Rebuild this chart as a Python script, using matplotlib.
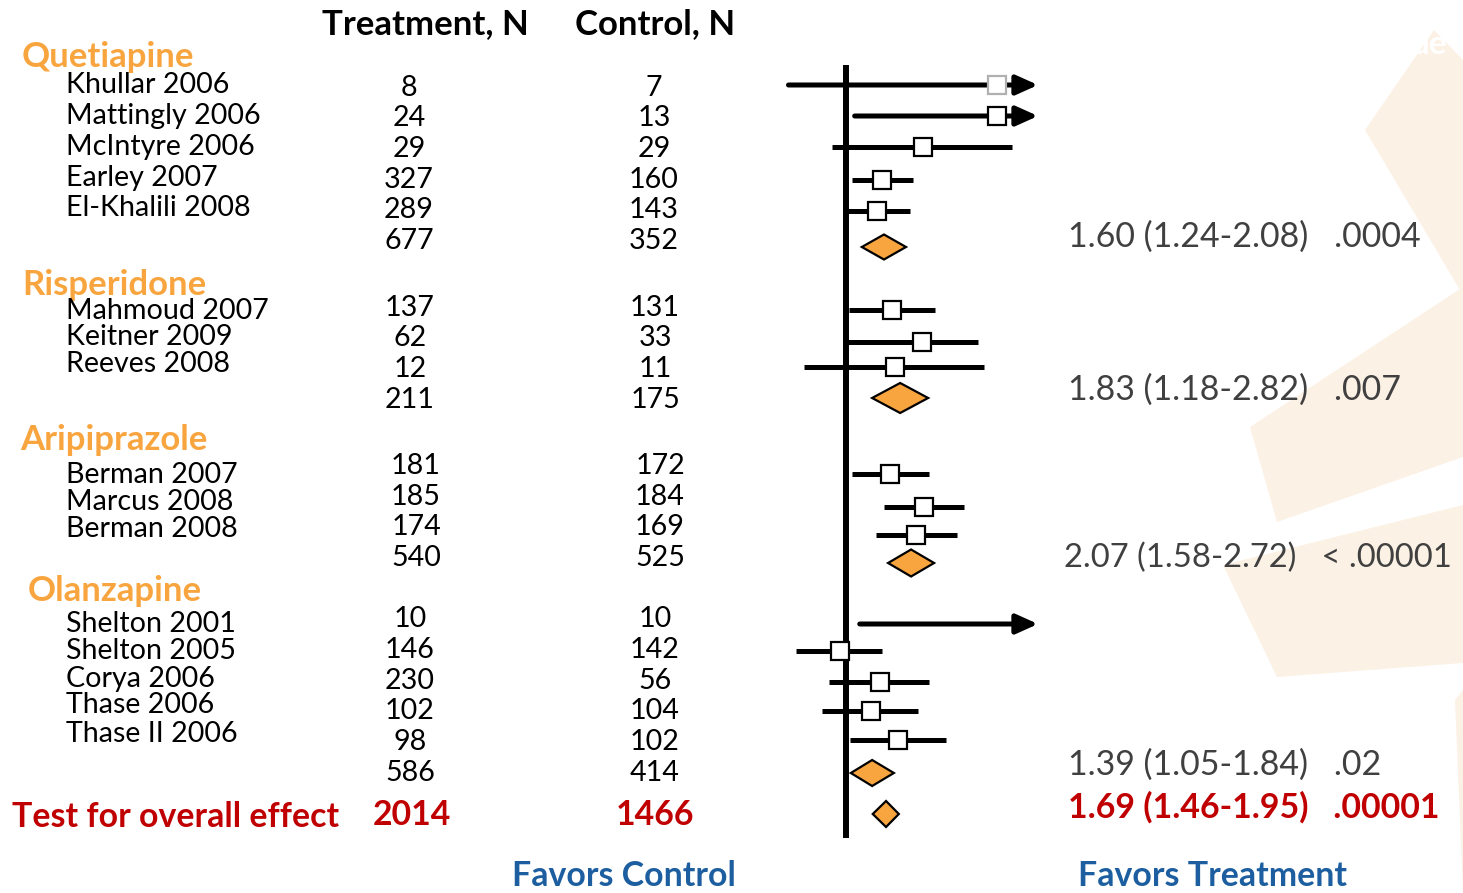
import numpy as np
import matplotlib
matplotlib.use("Agg")
import matplotlib.pyplot as plt
from matplotlib.patches import Polygon

W, H = 1463, 893
FONT = "Lato"
plt.rcParams['font.family'] = [FONT, 'DejaVu Sans']

# ---------------- data ----------------
groups = ["Quetiapine", "Risperidone", "Aripiprazole", "Olanzapine"]
studies = [
    ["Khullar 2006", "Mattingly 2006", "McIntyre 2006", "Earley 2007", "El-Khalili 2008"],
    ["Mahmoud 2007", "Keitner 2009", "Reeves 2008"],
    ["Berman 2007", "Marcus 2008", "Berman 2008"],
    ["Shelton 2001", "Shelton 2005", "Corya 2006", "Thase 2006", "Thase II 2006"],
]
treat_n = [[8, 24, 29, 327, 289], [137, 62, 12], [181, 185, 174], [10, 146, 230, 102, 98]]
treat_tot = [677, 211, 540, 586]
ctrl_n = [[7, 13, 29, 160, 143], [131, 33, 11], [172, 184, 169], [10, 142, 56, 104, 102]]
ctrl_tot = [352, 175, 525, 414]
overall_treat, overall_ctrl = 2014, 1466

# odds ratios (None = off scale, drawn as arrow)
or_est = [[6.2, 6.2, 2.53, 1.54, 1.45], [1.74, 2.50, 1.80], [1.70, 2.56, 2.32], [None, 0.93, 1.51, 1.35, 1.87]]
or_lo = [[0.50, 1.11, 0.84, 1.07, 1.02], [1.04, 0.96, 0.60], [1.07, 1.58, 1.44], [1.18, 0.55, 0.81, 0.75, 1.05]]
or_hi = [[None, None, 7.4, 2.24, 2.16], [2.92, 4.91, 5.27], [2.72, 4.14, 3.81], [None, 1.54, 2.72, 2.38, 3.34]]
pooled_est = [1.58, 1.92, 2.19, 1.37]
pooled_lo = [1.21, 1.37, 1.66, 1.06]
pooled_hi = [2.06, 2.69, 2.89, 1.78]
overall_est, overall_lo, overall_hi = 1.62, 1.38, 1.89
pooled_text = ["1.60 (1.24-2.08)   .0004", "1.83 (1.18-2.82)   .007",
               "2.07 (1.58-2.72)   < .00001", "1.39 (1.05-1.84)   .02"]
overall_text = "1.69 (1.46-1.95)   .00001"

# ---------------- layout (pixel positions) ----------------
group_y = [57, 285, 440, 591]
group_x = [22, 22, 20, 28]
study_y = [[85, 116, 147, 178, 208], [311, 337, 364], [475, 502, 529], [624, 651, 679, 705, 734]]
num_y = [[88, 118, 149, 180, 210], [308, 338, 369], [466, 497, 527], [619, 650, 681, 711, 742]]
tot_y = [241, 400, 558, 773]
treat_x = [409, 410, 416, 410]
ctrl_x = [654, 655, 660, 655]
plot_y = [[85, 116, 147, 180, 211], [310, 342, 367], [474, 507, 535], [624, 651, 682, 711, 740]]
diam_y = [247, 398, 563, 773]
diam_h = [12.5, 15, 13.5, 13]
right_text_y = [237, 390, 558, 765]
right_text_x = [1068, 1068, 1064, 1068]
right_text_fs = [24.4, 24.4, 23.6, 24.4]

ORANGE = "#F9A53F"
GREY = "#404040"
RED = "#C00000"
BLUE = "#1C5E9F"
PEACH = "#FCF1E5"

FS_ROW = 20.6
FS_BIG = 24.4

fig = plt.figure(figsize=(W / 100, H / 100), dpi=100)

def fx(x):
    return x / W

def fy(y):
    return 1 - y / H

# background decoration
bg = fig.add_axes([0, 0, 1, 1], zorder=-5)
bg.set_xlim(0, W)
bg.set_ylim(H, 0)
bg.axis("off")
for pts in [[(1434, 30), (1365, 130), (1463, 295), (1463, 60)],
            [(1250, 427), (1277, 522), (1463, 457), (1463, 287)],
            [(1223, 565), (1277, 677), (1463, 663), (1463, 505)],
            [(1455, 700), (1463, 893), (1463, 690)]]:
    bg.add_patch(Polygon(pts, closed=True, facecolor=PEACH, edgecolor="none"))
bg.text(1428, 45, "ue", color="white", fontsize=24, fontweight="bold", ha="center", va="center")

# texts
fig.text(fx(425), fy(24), "Treatment, N", fontsize=25, fontweight="bold", ha="center", va="center")
fig.text(fx(655), fy(24), "Control, N", fontsize=25, fontweight="bold", ha="center", va="center")

for g in range(4):
    fig.text(fx(group_x[g]), fy(group_y[g]), groups[g], fontsize=25, fontweight="bold",
             color=ORANGE, ha="left", va="center")
    for i, name in enumerate(studies[g]):
        fig.text(fx(66), fy(study_y[g][i]), name, fontsize=FS_ROW, ha="left", va="center")
        fig.text(fx(treat_x[g]), fy(num_y[g][i]), str(treat_n[g][i]), fontsize=FS_ROW, ha="center", va="center")
        fig.text(fx(ctrl_x[g]), fy(num_y[g][i]), str(ctrl_n[g][i]), fontsize=FS_ROW, ha="center", va="center")
    fig.text(fx(treat_x[g]), fy(tot_y[g]), str(treat_tot[g]), fontsize=FS_ROW, ha="center", va="center")
    fig.text(fx(ctrl_x[g]), fy(tot_y[g]), str(ctrl_tot[g]), fontsize=FS_ROW, ha="center", va="center")
    fig.text(fx(right_text_x[g]), fy(right_text_y[g]), pooled_text[g], fontsize=right_text_fs[g],
             color=GREY, ha="left", va="center")

fig.text(fx(12), fy(817), "Test for overall effect", fontsize=FS_BIG, fontweight="bold", color=RED, ha="left", va="center")
fig.text(fx(412), fy(815), str(overall_treat), fontsize=FS_BIG, fontweight="bold", color=RED, ha="center", va="center")
fig.text(fx(655), fy(815), str(overall_ctrl), fontsize=FS_BIG, fontweight="bold", color=RED, ha="center", va="center")
fig.text(fx(1068), fy(807), overall_text, fontsize=FS_BIG, fontweight="bold", color=RED, ha="left", va="center")
fig.text(fx(624), fy(876), "Favors Control", fontsize=FS_BIG, fontweight="bold", color=BLUE, ha="center", va="center")
fig.text(fx(1213), fy(876), "Favors Treatment", fontsize=FS_BIG, fontweight="bold", color=BLUE, ha="center", va="center")

# forest plot axes: x from pixel 780 to 1040 (log OR), y in pixels
K = 83.0
x0, x1 = 780, 1040
ax = fig.add_axes([fx(x0), 0, (x1 - x0) / W, 1])
ax.set_xscale("log")
xmin = np.exp((x0 - 846) / K)
xmax = np.exp((x1 - 846) / K)
ax.set_xlim(xmin, xmax)
ax.set_ylim(H, 0)
ax.axis("off")
ax.patch.set_alpha(0)

tip = np.exp((1038 - 846) / K)
ax.plot([1, 1], [65, 838], color="black", lw=4.3, solid_capstyle="butt", zorder=2)

for g in range(4):
    for i in range(len(studies[g])):
        y = plot_y[g][i]
        lo, est, hi = or_lo[g][i], or_est[g][i], or_hi[g][i]
        if hi is None:
            ax.annotate("", xy=(tip, y), xytext=(lo, y),
                        arrowprops=dict(arrowstyle="-|>,head_length=1.0,head_width=0.45",
                                        mutation_scale=13, lw=3.6, color="black",
                                        shrinkA=0, shrinkB=0), zorder=3)
        else:
            ax.plot([lo, hi], [y, y], color="black", lw=3.6, solid_capstyle="butt", zorder=3)
        if est is not None:
            ec = "#B0B0B0" if (g == 0 and i == 0) else "black"
            ax.plot([est], [y], marker="s", ms=13, mfc="white", mec=ec, mew=1.6, zorder=4)
    d = diam_h[g]
    y = diam_y[g]
    ax.add_patch(Polygon([(pooled_lo[g], y), (pooled_est[g], y - d), (pooled_hi[g], y), (pooled_est[g], y + d)],
                         closed=True, facecolor=ORANGE, edgecolor="black", lw=1.6, zorder=4))

y = 814
ax.add_patch(Polygon([(overall_lo, y), (overall_est, y - 13), (overall_hi, y), (overall_est, y + 13)],
                     closed=True, facecolor=ORANGE, edgecolor="black", lw=1.6, zorder=4))

fig.savefig("out.png", dpi=100)
